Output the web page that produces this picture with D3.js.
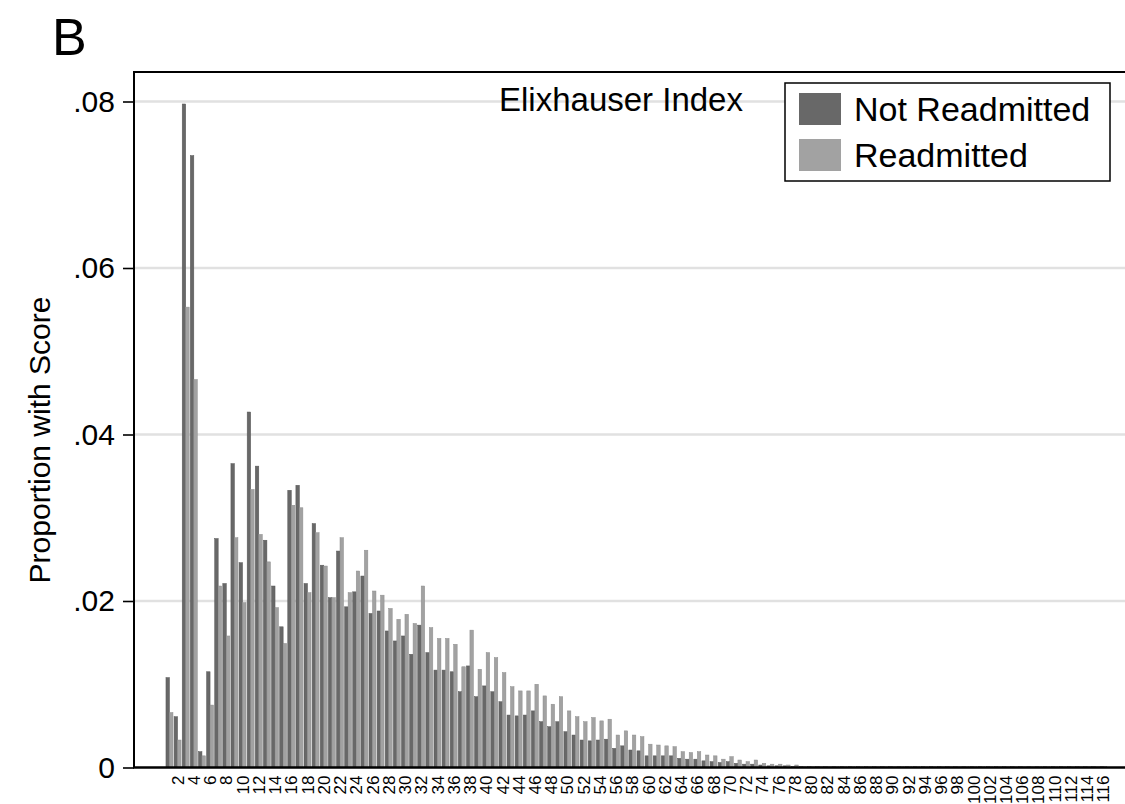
<!DOCTYPE html>
<html>
<head>
<meta charset="utf-8">
<script src="https://cdn.jsdelivr.net/npm/d3@7"></script>
<style>
  html, body { margin: 0; padding: 0; background: #fff; }
  svg { display: block; font-family: "Liberation Sans", Arial, sans-serif; }
</style>
</head>
<body>
<svg id="chart" width="1125" height="804"></svg>
<script>
// Elixhauser index score categories (1..116); only the even ones carry a label
const categories = d3.range(1, 117).map(String);
const xTickLabels = d3.range(2, 117, 2).map(String);

const seriesNames = ["Not Readmitted", "Readmitted"];

const notReadmitted = [
  0.0108, 0.0061, 0.0797, 0.0735, 0.0019, 0.0115, 0.0275, 0.0221, 0.0365, 0.0246,
  0.0427, 0.0362, 0.0273, 0.0218, 0.0169, 0.0333, 0.0339, 0.0221, 0.0293, 0.0243,
  0.0204, 0.0260, 0.0193, 0.0211, 0.0230, 0.0185, 0.0188, 0.0164, 0.0152, 0.0158,
  0.0136, 0.0171, 0.0138, 0.0117, 0.0117, 0.0115, 0.0091, 0.0122, 0.0085, 0.0098,
  0.0091, 0.0079, 0.0063, 0.0062, 0.0063, 0.0068, 0.0055, 0.0049, 0.0055, 0.0043,
  0.0039, 0.0033, 0.0032, 0.0033, 0.0034, 0.0023, 0.0026, 0.0021, 0.0020, 0.0014,
  0.0014, 0.0014, 0.0014, 0.0011, 0.0010, 0.0010, 0.0008, 0.0007, 0.0006, 0.0007,
  0.0005, 0.0004, 0.0004, 0.0003, 0.0002, 0.0002, 0.0002, 0.0001, 0.0001, 0.0001,
  0.0001, 0.0001, 0.0001, 0.0001, 0.0001, 0.0001, 0.0001, 0.0001, 0.0001, 0.0001,
  0.0001, 0.0001, 0.0001, 0.0001, 0.0001, 0.0001, 0.0001, 0.0001, 0.0001, 0.0001,
  0.0001, 0.0001, 0.0001, 0.0001, 0.0001, 0.0001, 0.0001, 0.0001, 0.0001, 0.0001,
  0.0001, 0.0001, 0.0001, 0.0001, 0.0001, 0.0001
];

const readmitted = [
  0.0066, 0.0033, 0.0553, 0.0466, 0.0014, 0.0075, 0.0218, 0.0158, 0.0276, 0.0198,
  0.0334, 0.0280, 0.0247, 0.0192, 0.0149, 0.0315, 0.0312, 0.0210, 0.0282, 0.0242,
  0.0204, 0.0276, 0.0210, 0.0236, 0.0261, 0.0212, 0.0207, 0.0191, 0.0178, 0.0184,
  0.0173, 0.0218, 0.0168, 0.0155, 0.0155, 0.0148, 0.0121, 0.0165, 0.0118, 0.0138,
  0.0132, 0.0114, 0.0097, 0.0092, 0.0092, 0.0100, 0.0086, 0.0076, 0.0085, 0.0068,
  0.0061, 0.0055, 0.0060, 0.0056, 0.0058, 0.0039, 0.0044, 0.0039, 0.0037, 0.0028,
  0.0027, 0.0026, 0.0025, 0.0019, 0.0018, 0.0019, 0.0015, 0.0014, 0.0010, 0.0013,
  0.0009, 0.0007, 0.0009, 0.0005, 0.0004, 0.0004, 0.0003, 0.0003, 0.0001, 0.0001,
  0.0001, 0.0001, 0.0001, 0.0001, 0.0001, 0.0001, 0.0001, 0.0001, 0.0001, 0.0001,
  0.0001, 0.0001, 0.0001, 0.0001, 0.0001, 0.0001, 0.0001, 0.0001, 0.0001, 0.0001,
  0.0001, 0.0001, 0.0001, 0.0001, 0.0001, 0.0001, 0.0001, 0.0001, 0.0001, 0.0001,
  0.0001, 0.0001, 0.0001, 0.0001, 0.0001, 0.0001
];

const yTicks = [0, 0.02, 0.04, 0.06, 0.08];
const yTickLabels = ["0", ".02", ".04", ".06", ".08"];

const seriesColors = ["#686868", "#a2a2a2"];
const seriesStroke = ["#575757", "#8e8e8e"];

// layout
const plotLeft = 134, plotRight = 1125, plotTop = 72, plotBottom = 767.5;
const FONT = "Liberation Sans, Arial, sans-serif";

const svg = d3.select("#chart");

const x = d3.scaleBand()
  .domain(categories)
  .range([165.4, 1107.4])
  .paddingInner(0.14)
  .paddingOuter(0.07);

const xs = d3.scaleBand()
  .domain(seriesNames)
  .range([0, x.bandwidth()]);

const y = d3.scaleLinear()
  .domain([0, 0.08])
  .range([plotBottom, 101.5]);

// gridlines
svg.append("g")
  .selectAll("line")
  .data(yTicks.filter(d => d > 0))
  .join("line")
  .attr("x1", plotLeft).attr("x2", plotRight)
  .attr("y1", d => y(d)).attr("y2", d => y(d))
  .attr("stroke", "#e1e1e1")
  .attr("stroke-width", 2.5);

// bars
const rows = categories.map((c, i) => ({
  cat: c,
  vals: [notReadmitted[i], readmitted[i]]
}));

const groups = svg.append("g")
  .selectAll("g")
  .data(rows)
  .join("g")
  .attr("transform", d => `translate(${x(d.cat)},0)`);

groups.selectAll("rect")
  .data(d => d.vals.map((v, j) => ({ s: seriesNames[j], v, j })))
  .join("rect")
  .attr("x", d => xs(d.s))
  .attr("width", xs.bandwidth())
  .attr("y", d => y(d.v))
  .attr("height", d => y(0) - y(d.v))
  .attr("fill", d => seriesColors[d.j])
  .attr("stroke", d => seriesStroke[d.j])
  .attr("stroke-width", 0.5);

// y axis
const yAxis = d3.axisLeft(y)
  .tickValues(yTicks)
  .tickFormat((d, i) => yTickLabels[i])
  .tickSize(11)
  .tickPadding(8);

const gy = svg.append("g")
  .attr("transform", `translate(${plotLeft},0)`)
  .call(yAxis);
gy.select(".domain").remove();
gy.selectAll(".tick line").attr("stroke", "#000").attr("stroke-width", 1.6);
gy.selectAll(".tick text")
  .attr("fill", "#000")
  .style("font-size", "30px")
  .style("font-family", FONT);

// x axis labels (rotated)
const xAxis = d3.axisBottom(x)
  .tickValues(xTickLabels)
  .tickSize(0)
  .tickPadding(0);

const gx = svg.append("g")
  .attr("transform", `translate(0,${plotBottom})`)
  .call(xAxis);
gx.select(".domain").remove();
gx.selectAll(".tick text")
  .attr("fill", "#000")
  .style("font-size", "17px")
  .style("font-family", FONT)
  .attr("text-anchor", "end")
  .attr("transform", "translate(0,8) rotate(-90)")
  .attr("x", 0)
  .attr("y", 0)
  .attr("dy", "0.36em");

// frame lines
svg.append("line")
  .attr("x1", plotLeft).attr("x2", plotLeft)
  .attr("y1", plotTop).attr("y2", plotBottom)
  .attr("stroke", "#000").attr("stroke-width", 2);
svg.append("line")
  .attr("x1", plotLeft - 1).attr("x2", plotRight)
  .attr("y1", plotTop).attr("y2", plotTop)
  .attr("stroke", "#000").attr("stroke-width", 2);
svg.append("line")
  .attr("x1", plotLeft - 1).attr("x2", plotRight)
  .attr("y1", plotBottom).attr("y2", plotBottom)
  .attr("stroke", "#000").attr("stroke-width", 2.5);

// y axis title
svg.append("text")
  .attr("transform", `translate(50,440) rotate(-90)`)
  .attr("text-anchor", "middle")
  .style("font-size", "30px")
  .text("Proportion with Score");

// panel letter
svg.append("text")
  .attr("x", 52).attr("y", 55)
  .style("font-size", "52px")
  .text("B");

// chart title
svg.append("text")
  .attr("x", 621).attr("y", 111)
  .attr("text-anchor", "middle")
  .style("font-size", "33px")
  .text("Elixhauser Index");

// legend
const lg = svg.append("g").attr("transform", "translate(785,83)");
lg.append("rect")
  .attr("x", 0).attr("y", 0)
  .attr("width", 325).attr("height", 98)
  .attr("fill", "#fff")
  .attr("stroke", "#000")
  .attr("stroke-width", 1.5);
seriesNames.forEach((name, i) => {
  lg.append("rect")
    .attr("x", 14).attr("y", 10 + i * 46)
    .attr("width", 42).attr("height", 32)
    .attr("fill", seriesColors[i]);
  lg.append("text")
    .attr("x", 69).attr("y", 38 + i * 46)
    .style("font-size", "34px")
    .text(name);
});
</script>
</body>
</html>
